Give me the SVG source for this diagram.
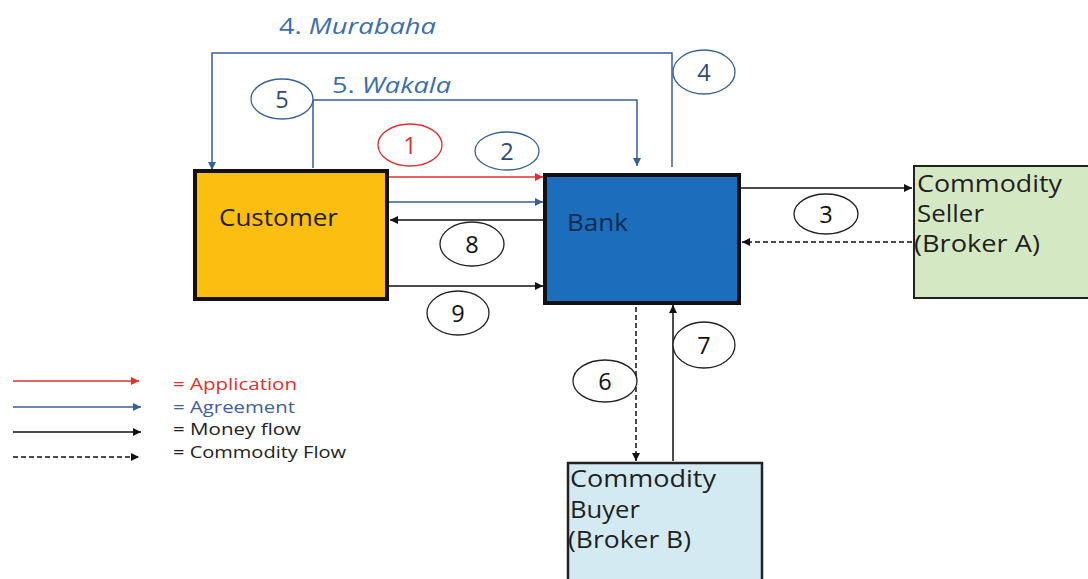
<svg xmlns="http://www.w3.org/2000/svg" width="1088" height="579" viewBox="0 0 1088 579">
  <defs>
    <marker id="ah-red" viewBox="0 0 10 10" refX="10" refY="5" markerWidth="10" markerHeight="8" markerUnits="userSpaceOnUse" orient="auto"><path d="M0,0 L10,5 L0,10 z" fill="#e0302f"/></marker>
    <marker id="ah-blue" viewBox="0 0 10 10" refX="10" refY="5" markerWidth="10" markerHeight="8" markerUnits="userSpaceOnUse" orient="auto"><path d="M0,0 L10,5 L0,10 z" fill="#3a5f95"/></marker>
    <marker id="ah-black" viewBox="0 0 10 10" refX="10" refY="5" markerWidth="10" markerHeight="8" markerUnits="userSpaceOnUse" orient="auto"><path d="M0,0 L10,5 L0,10 z" fill="#111"/></marker>
  </defs>
  <style>
    text { font-family: "Open Sans", "Liberation Sans", sans-serif; }
    .node { font-size: 23px; fill: #1f1f1f; }
    .num { font-size: 23.5px; text-anchor: middle; }
    .title { font-size: 22px; fill: #3c6ea8; }
    .legend { font-size: 16px; }
    .red { stroke: #e0302f; stroke-width: 1.5; fill: none; }
    .blue { stroke: #3a5f95; stroke-width: 1.5; fill: none; }
    .black { stroke: #111; stroke-width: 1.5; fill: none; }
    .dash { stroke: #111; stroke-width: 1.5; fill: none; stroke-dasharray: 5 3; }
    .ell-blue { fill: #fff; stroke: #3a5f95; stroke-width: 1.3; }
    .ell-red { fill: #fff; stroke: #e0302f; stroke-width: 1.3; }
    .ell-black { fill: #fff; stroke: #222; stroke-width: 1.3; }
  </style>
  <rect width="1088" height="579" fill="#fff"/>

  <!-- connectors -->
  <g id="connectors">
    <!-- 4. Murabaha: bank -> customer -->
    <polyline class="blue" points="672,167 672,53 212,53 212,170" marker-end="url(#ah-blue)"/>
    <!-- 5. Wakala: customer -> bank -->
    <polyline class="blue" points="313,168 313,100 637,100 637,166" marker-end="url(#ah-blue)"/>
    <!-- 1 application -->
    <line class="red" x1="389" y1="177" x2="543" y2="177" marker-end="url(#ah-red)"/>
    <!-- 2 agreement -->
    <line class="blue" x1="389" y1="202" x2="543" y2="202" marker-end="url(#ah-blue)"/>
    <!-- 8 money bank -> customer -->
    <line class="black" x1="543" y1="220" x2="390" y2="220" marker-end="url(#ah-black)"/>
    <!-- 9 money customer -> bank -->
    <line class="black" x1="389" y1="286" x2="543" y2="286" marker-end="url(#ah-black)"/>
    <!-- 3 money bank -> seller -->
    <line class="black" x1="740" y1="188" x2="912" y2="188" marker-end="url(#ah-black)"/>
    <!-- commodity seller -> bank -->
    <line class="dash" x1="912" y1="242" x2="742" y2="242" marker-end="url(#ah-black)"/>
    <!-- 6 commodity bank -> buyer -->
    <line class="dash" x1="636" y1="307" x2="636" y2="461" marker-end="url(#ah-black)"/>
    <!-- 7 money buyer -> bank -->
    <line class="black" x1="673" y1="461" x2="673" y2="305" marker-end="url(#ah-black)"/>
  </g>

  <!-- nodes -->
  <g id="customer">
    <rect x="195" y="171" width="192" height="128" fill="#fdbe12" stroke="#111" stroke-width="4"/>
    <text class="node" x="219" y="226" textLength="119" lengthAdjust="spacingAndGlyphs">Customer</text>
  </g>
  <g id="bank">
    <rect x="545" y="175" width="194" height="128" fill="#1c6dbb" stroke="#111" stroke-width="4"/>
    <text class="node" x="567" y="231" textLength="61" lengthAdjust="spacingAndGlyphs" style="fill:#0f2a4f">Bank</text>
  </g>
  <g id="seller">
    <rect x="914" y="166" width="180" height="132" fill="#d5e8c4" stroke="#222" stroke-width="2"/>
    <text class="node" x="917" y="192" textLength="145" lengthAdjust="spacingAndGlyphs">Commodity</text>
    <text class="node" x="917" y="222" textLength="67" lengthAdjust="spacingAndGlyphs">Seller</text>
    <text class="node" x="914" y="252" textLength="126" lengthAdjust="spacingAndGlyphs">(Broker A)</text>
  </g>
  <g id="buyer">
    <rect x="568" y="463" width="194" height="130" fill="#d3eaf3" stroke="#222" stroke-width="2.5"/>
    <text class="node" x="570" y="487" textLength="146" lengthAdjust="spacingAndGlyphs">Commodity</text>
    <text class="node" x="570" y="518" textLength="70" lengthAdjust="spacingAndGlyphs">Buyer</text>
    <text class="node" x="568" y="548" textLength="123" lengthAdjust="spacingAndGlyphs">(Broker B)</text>
  </g>

  <!-- step labels -->
  <g id="labels">
    <text class="title" x="279" y="34" textLength="157" lengthAdjust="spacingAndGlyphs">4. <tspan font-style="italic">Murabaha</tspan></text>
    <text class="title" x="332" y="93" textLength="119" lengthAdjust="spacingAndGlyphs">5. <tspan font-style="italic">Wakala</tspan></text>

    <ellipse class="ell-blue" cx="282" cy="99" rx="31" ry="20"/>
    <text class="num" x="282" y="107.5" fill="#2e4a7a">5</text>
    <ellipse class="ell-red" cx="410" cy="145" rx="32" ry="21"/>
    <text class="num" x="410" y="153.5" fill="#e0302f">1</text>
    <ellipse class="ell-blue" cx="507" cy="151" rx="32" ry="19"/>
    <text class="num" x="507" y="159.5" fill="#2e4a7a">2</text>
    <ellipse class="ell-blue" cx="704" cy="72" rx="31" ry="22"/>
    <text class="num" x="704" y="80.5" fill="#2e4a7a">4</text>
    <ellipse class="ell-black" cx="826" cy="214" rx="32" ry="20"/>
    <text class="num" x="826" y="222.5" fill="#111">3</text>
    <ellipse class="ell-black" cx="472" cy="244" rx="32" ry="22"/>
    <text class="num" x="472" y="252.5" fill="#111">8</text>
    <ellipse class="ell-black" cx="458" cy="313" rx="31" ry="22"/>
    <text class="num" x="458" y="321.5" fill="#111">9</text>
    <ellipse class="ell-black" cx="605" cy="381" rx="32" ry="21"/>
    <text class="num" x="605" y="389.5" fill="#111">6</text>
    <ellipse class="ell-black" cx="704" cy="345" rx="31" ry="23"/>
    <text class="num" x="704" y="353.5" fill="#111">7</text>
  </g>

  <!-- legend -->
  <g id="legend">
    <line class="red" x1="13" y1="381" x2="139" y2="381" marker-end="url(#ah-red)"/>
    <line class="blue" x1="13" y1="407" x2="141" y2="407" marker-end="url(#ah-blue)"/>
    <line class="black" x1="13" y1="432" x2="141" y2="432" marker-end="url(#ah-black)"/>
    <line class="dash" x1="13" y1="457" x2="139" y2="457" marker-end="url(#ah-black)"/>
    <text class="legend" x="173" y="390" fill="#e0302f" textLength="124" lengthAdjust="spacingAndGlyphs">= Application</text>
    <text class="legend" x="173" y="413" fill="#44609a" textLength="122" lengthAdjust="spacingAndGlyphs">= Agreement</text>
    <text class="legend" x="173" y="435" fill="#222" textLength="128" lengthAdjust="spacingAndGlyphs">= Money flow</text>
    <text class="legend" x="173" y="458" fill="#222" textLength="173" lengthAdjust="spacingAndGlyphs">= Commodity Flow</text>
  </g>
</svg>
